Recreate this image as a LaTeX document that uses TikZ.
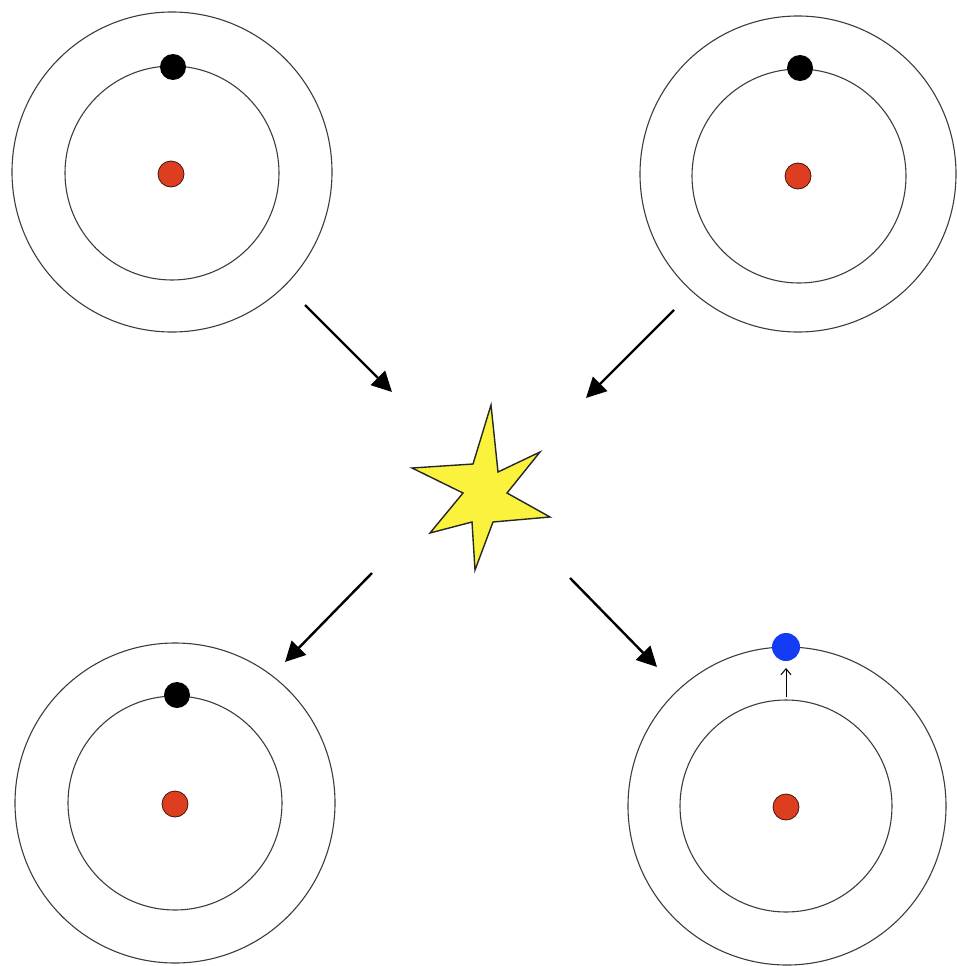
\documentclass[tikz,border=0pt]{standalone}
\usetikzlibrary{arrows.meta}
\definecolor{nucred}{RGB}{222,62,32}
\definecolor{elblue}{RGB}{20,60,245}
\definecolor{staryellow}{RGB}{250,242,60}
\definecolor{orbitgray}{RGB}{60,60,60}
\tikzset{
  orbit/.style={draw=orbitgray,line width=1.1pt,fill=none},
  nucleus/.style={circle,draw=black!70!nucred,line width=0.8pt,fill=nucred,minimum size=26pt,inner sep=0pt},
  electron/.style={circle,fill=black,minimum size=26pt,inner sep=0pt},
  blueel/.style={circle,fill=elblue,minimum size=28pt,inner sep=0pt},
  bigarrow/.style={line width=2.4pt,-{Triangle[length=20pt,width=20pt]}},
}
\begin{document}
\begin{tikzpicture}[x=1pt,y=-1pt]
\useasboundingbox (0,0) rectangle (957,966);
% top-left atom
\draw[orbit] (172,173) circle (107);
\draw[orbit] (172,172) circle (160);
\node[nucleus] (n1) at (171,174) {};
\node[electron] (e1) at (173,67) {};
% top-right atom
\draw[orbit] (799,176) circle (107);
\draw[orbit] (798,174) circle (158);
\node[nucleus] (n2) at (798,176) {};
\node[electron] (e2) at (800,68) {};
% bottom-left atom
\draw[orbit] (175,803) circle (107);
\draw[orbit] (175,803) circle (160);
\node[nucleus] (n3) at (175,804) {};
\node[electron] (e3) at (177,695) {};
% bottom-right atom
\draw[orbit] (786,806) circle (106);
\draw[orbit] (787,806) circle (159);
\node[nucleus] (n4) at (786,807) {};
\node[blueel] (e4) at (786,647) {};
\coordinate (u1) at (786,697);
\coordinate (u2) at (786,668);
\draw[line width=1pt,-{Straight Barb[length=6pt,width=10pt]}] (u1) -- (u2);
% star
\draw[fill=staryellow,draw=black!85,line width=1.4pt,line join=miter]
  (491,405) -- (498,472) -- (540,452) -- (507,493) -- (550,517) -- (493,522)
  -- (475,570) -- (472,522) -- (430,533) -- (463,493) -- (412,468) -- (473,464) -- cycle;
% arrows
\coordinate (a1s) at (305,305); \coordinate (a1e) at (392,392);
\coordinate (a2s) at (674,310); \coordinate (a2e) at (586,398);
\coordinate (a3s) at (372,573); \coordinate (a3e) at (285,662);
\coordinate (a4s) at (570,578); \coordinate (a4e) at (657,667);
\draw[bigarrow] (a1s) -- (a1e);
\draw[bigarrow] (a2s) -- (a2e);
\draw[bigarrow] (a3s) -- (a3e);
\draw[bigarrow] (a4s) -- (a4e);
\end{tikzpicture}
\end{document}
